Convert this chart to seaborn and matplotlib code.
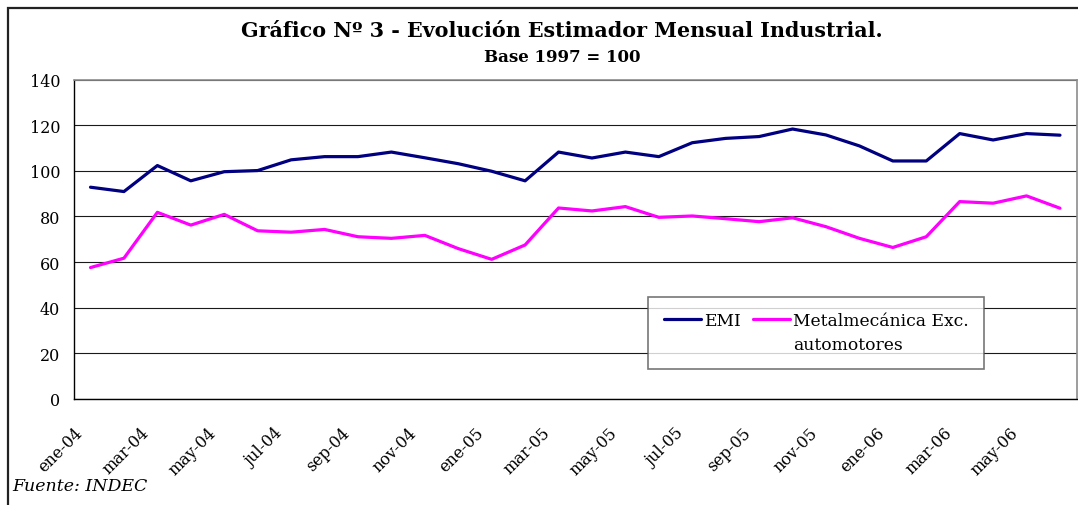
import numpy as np
import pandas as pd
import matplotlib
matplotlib.use("Agg")
import matplotlib.pyplot as plt
from matplotlib.patches import Rectangle
from matplotlib.lines import Line2D
import seaborn as sns

# ── Data ──────────────────────────────────────────────────────
meses = ["ene-04", "feb-04", "mar-04", "abr-04", "may-04", "jun-04",
         "jul-04", "ago-04", "sep-04", "oct-04", "nov-04", "dic-04",
         "ene-05", "feb-05", "mar-05", "abr-05", "may-05", "jun-05",
         "jul-05", "ago-05", "sep-05", "oct-05", "nov-05", "dic-05",
         "ene-06", "feb-06", "mar-06", "abr-06", "may-06", "jun-06"]

emi = [92.8, 90.9, 102.3, 95.6, 99.6, 100.1, 104.8, 106.2, 106.2, 108.2,
       105.7, 103.1, 99.8, 95.6, 108.2, 105.6, 108.2, 106.2, 112.3, 114.2,
       115.0, 118.3, 115.7, 110.9, 104.3, 104.3, 116.3, 113.5, 116.3, 115.6]

metalmecanica = [57.6, 61.7, 81.8, 76.2, 80.9, 73.7, 73.1, 74.3, 71.1, 70.4,
                 71.7, 65.9, 61.2, 67.5, 83.7, 82.4, 84.3, 79.6, 80.2, 79.0,
                 77.7, 79.4, 75.5, 70.4, 66.4, 71.1, 86.5, 85.8, 89.0, 83.6]

series = ["EMI", "Metalmecánica Exc. automotores"]
colores = ["#000080", "#FF00FF"]

etiquetas_x = ["ene-04", "mar-04", "may-04", "jul-04", "sep-04", "nov-04",
               "ene-05", "mar-05", "may-05", "jul-05", "sep-05", "nov-05",
               "ene-06", "mar-06", "may-06"]

titulo = "Gráfico Nº 3 - Evolución Estimador Mensual Industrial."
subtitulo = "Base 1997 = 100"
fuente = "Fuente: INDEC"

# ── Long table for seaborn ────────────────────────────────────
df = pd.DataFrame({
    "pos": list(range(len(meses))) * 2,
    "mes": meses * 2,
    "valor": emi + metalmecanica,
    "serie": [series[0]] * len(meses) + [series[1]] * len(meses),
})

sns.set_style("white")
plt.rcParams["font.family"] = ["DejaVu Serif"]
plt.rcParams["text.color"] = "black"
plt.rcParams["xtick.color"] = "black"
plt.rcParams["ytick.color"] = "black"

fig = plt.figure(figsize=(10.78, 5.06), dpi=100)
ax = fig.add_axes([73.8 / 1078, 1 - 400 / 506, (1076.7 - 73.8) / 1078, 319.5 / 506])

sns.lineplot(data=df, x="pos", y="valor", hue="serie", hue_order=series,
             palette=colores, linewidth=2.3, ax=ax, legend=True)

# ── Axes styling ──────────────────────────────────────────────
ax.set_xlim(-0.5, len(meses) - 0.5)
ax.set_ylim(0, 140)
ax.set_yticks(np.arange(0, 141, 20))
ax.set_xticks(list(np.arange(-0.5, len(meses) - 1, 2)) + [len(meses) - 0.5])
ax.set_xticklabels(etiquetas_x + [""], rotation=45, ha="right",
                   va="top", rotation_mode="anchor", fontsize=11.5)
for lbl in ax.get_yticklabels():
    lbl.set_fontsize(11.5)
ax.set_xlabel("")
ax.set_ylabel("")

ax.yaxis.grid(True, color="#1a1a1a", linewidth=0.8)
ax.set_axisbelow(True)
ax.tick_params(axis="x", direction="out", length=4.3, width=0.9,
               color="black", pad=13.5)
ax.tick_params(axis="y", direction="out", length=4.3, width=0.9,
               color="black", pad=5.5)
for side in ["left", "bottom"]:
    ax.spines[side].set_color("black")
    ax.spines[side].set_linewidth(1.0)
for side in ["top", "right"]:
    ax.spines[side].set_color("#8c8c8c")
    ax.spines[side].set_linewidth(1.2)

# ── Legend (second label wraps onto a blank-handle row) ───────
handles, labels = ax.get_legend_handles_labels()
blank = Line2D([], [], color="none")
leg = ax.legend([handles[0], blank, handles[1], blank],
                ["EMI", "", "Metalmecánica Exc.", "automotores"],
                ncol=2, loc="upper left",
                bbox_to_anchor=(0.5725, 0.32), frameon=True, fancybox=False,
                edgecolor="#555555", fontsize=12.3, handlelength=2.2,
                handletextpad=0.15, columnspacing=0.7, borderpad=0.92,
                labelspacing=0.4, borderaxespad=0)
leg.get_frame().set_linewidth(1.2)
for line in leg.get_lines():
    line.set_linewidth(2.3)

# ── Titles, source, outer frame ───────────────────────────────
fig.text(562 / 1078, 1 - 31 / 506, titulo, ha="center", va="center",
         fontsize=14.9, fontweight="bold")
fig.text(562 / 1078, 1 - 57.5 / 506, subtitulo, ha="center", va="center",
         fontsize=12, fontweight="bold")
fig.text(12.5 / 1078, 1 - 487 / 506, fuente, ha="left", va="center",
         fontsize=12.5, style="italic")

fig.add_artist(Rectangle((7.6 / 1078, -0.2), 1.2, 1.2 - 9 / 506,
                         transform=fig.transFigure, fill=False,
                         edgecolor="#222222", linewidth=1.6))

plt.savefig("out.png", dpi=100)
